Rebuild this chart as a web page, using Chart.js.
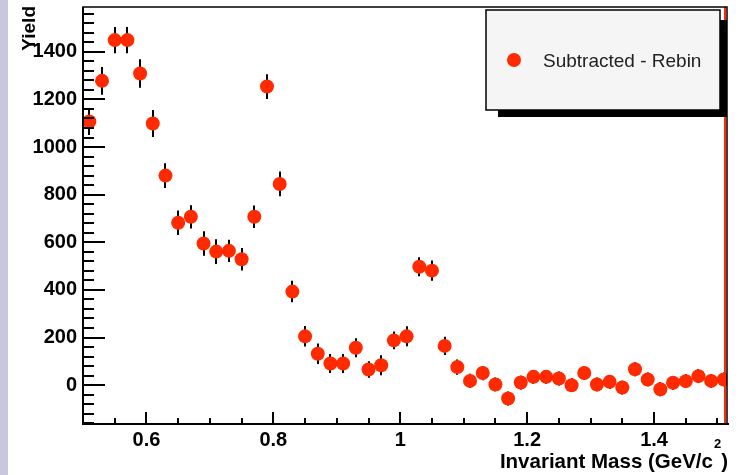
<!DOCTYPE html>
<html>
<head>
<meta charset="utf-8">
<script src="https://cdn.jsdelivr.net/npm/chart.js@4/dist/chart.umd.min.js"></script>
<style>
  html, body { margin: 0; padding: 0; background: #fff; }
  canvas { display: block; }
</style>
</head>
<body>
<canvas id="massChart" width="740" height="475"></canvas>
<script>
// bin centres (GeV/c^2) and subtracted yields with their errors
const masses = [0.51, 0.53, 0.55, 0.57, 0.59, 0.61, 0.63, 0.65, 0.67, 0.69,
  0.71, 0.73, 0.75, 0.77, 0.79, 0.81, 0.83, 0.85, 0.87, 0.89,
  0.91, 0.93, 0.95, 0.97, 0.99, 1.01, 1.03, 1.05, 1.07, 1.09,
  1.11, 1.13, 1.15, 1.17, 1.19, 1.21, 1.23, 1.25, 1.27, 1.29,
  1.31, 1.33, 1.35, 1.37, 1.39, 1.41, 1.43, 1.45, 1.47, 1.49, 1.51];
const yields = [1107, 1278, 1449, 1449, 1309, 1099, 880, 682, 707, 595,
  561, 564, 529, 707, 1254, 845, 393, 205, 132, 91,
  91, 157, 66, 84, 188, 205, 497, 481, 165, 76,
  18, 51, 3, -56, 11, 35, 35, 28, 0, 51,
  3, 14, -10, 67, 24, -17, 10, 17, 38, 18, 24];
const yieldErrors = [56, 58, 55, 55, 60, 57, 52, 51, 49, 51,
  52, 47, 47, 47, 52, 52, 45, 43, 43, 40,
  40, 40, 35, 42, 37, 42, 40, 43, 38, 32,
  30, 30, 29, 29, 29, 29, 29, 29, 29, 29,
  29, 29, 29, 29, 29, 29, 29, 29, 29, 29, 29];

const xTickLabels = [0.6, 0.8, 1, 1.2, 1.4];
const yTickLabels = [0, 200, 400, 600, 800, 1000, 1200, 1400];
const seriesName = "Subtracted - Rebin";

const X_MIN = 0.5, X_MAX = 1.515;
const Y_MIN = -163, Y_MAX = 1588;
const X_MINOR = 0.05, Y_MINOR = 40;

const FONT = "'Liberation Sans', Arial, Helvetica, sans-serif";
const RED = "#ff2a00";

function minorTicks(min, max, step) {
  const out = [];
  for (let v = Math.ceil(min / step - 1e-9) * step; v <= max + 1e-9; v += step) {
    out.push({ value: Math.round(v * 1000) / 1000 });
  }
  return out;
}

function isMajor(v, list) {
  return list.some((m) => Math.abs(m - v) < 1e-6);
}

// white page with the lavender strip on the left
const pageBackground = {
  id: "pageBackground",
  beforeDraw(chart) {
    const ctx = chart.ctx;
    ctx.save();
    ctx.fillStyle = "#ffffff";
    ctx.fillRect(0, 0, chart.width, chart.height);
    ctx.fillStyle = "#c9c7de";
    ctx.fillRect(0, 0, 8, chart.height);
    ctx.restore();
  }
};

// vertical error bars, drawn under the markers
const errorBars = {
  id: "errorBars",
  beforeDatasetsDraw(chart) {
    const ctx = chart.ctx;
    const xs = chart.scales.x, ys = chart.scales.y;
    ctx.save();
    ctx.strokeStyle = "#000";
    ctx.lineWidth = 2;
    ctx.beginPath();
    masses.forEach((m, i) => {
      const px = Math.round(xs.getPixelForValue(m));
      ctx.moveTo(px, ys.getPixelForValue(yields[i] + yieldErrors[i]));
      ctx.lineTo(px, ys.getPixelForValue(yields[i] - yieldErrors[i]));
    });
    ctx.stroke();
    ctx.restore();
  }
};

// frame, inward ticks, axis titles and the boxed legend
const frameAndLegend = {
  id: "frameAndLegend",
  afterDraw(chart) {
    const ctx = chart.ctx;
    const { left, right, top, bottom } = chart.chartArea;
    const xs = chart.scales.x, ys = chart.scales.y;
    ctx.save();

    // red line along the right edge
    ctx.strokeStyle = RED;
    ctx.lineWidth = 2;
    ctx.beginPath();
    ctx.moveTo(right - 2, top);
    ctx.lineTo(right - 2, bottom);
    ctx.stroke();

    // frame
    ctx.strokeStyle = "#000";
    ctx.lineWidth = 1.5;
    ctx.strokeRect(left, top, right - left, bottom - top);
    ctx.lineWidth = 2;
    ctx.beginPath();
    ctx.moveTo(left, top);
    ctx.lineTo(left, bottom);
    ctx.lineTo(right + 2, bottom);
    ctx.stroke();

    // ticks pointing into the plot
    ctx.beginPath();
    ys.ticks.forEach((t) => {
      const py = Math.round(ys.getPixelForValue(t.value));
      const len = isMajor(t.value, yTickLabels) ? 22 : 11;
      ctx.moveTo(left, py);
      ctx.lineTo(left + len, py);
    });
    xs.ticks.forEach((t) => {
      const px = Math.round(xs.getPixelForValue(t.value));
      const len = isMajor(t.value, xTickLabels) ? 12 : 6;
      ctx.moveTo(px, bottom);
      ctx.lineTo(px, bottom - len);
    });
    ctx.stroke();

    // legend box with shadow
    ctx.fillStyle = "#000";
    ctx.fillRect(498, 20, 229, 97);
    ctx.fillStyle = "#f5f5f5";
    ctx.fillRect(486, 10, 234, 100);
    ctx.strokeStyle = "#000";
    ctx.lineWidth = 1.5;
    ctx.strokeRect(486, 10, 234, 100);
    ctx.fillStyle = RED;
    ctx.beginPath();
    ctx.arc(514, 60, 7, 0, Math.PI * 2);
    ctx.fill();
    ctx.fillStyle = "#222";
    ctx.font = "19px " + FONT;
    ctx.textBaseline = "alphabetic";
    ctx.textAlign = "left";
    ctx.fillText(seriesName, 543, 67);

    // axis titles
    ctx.fillStyle = "#000";
    const main = "Invariant Mass (GeV/c";
    const close = ")";
    ctx.font = "bold 13px " + FONT;
    const supW = ctx.measureText("2").width;
    ctx.font = "bold 20.5px " + FONT;
    const closeW = ctx.measureText(close).width;
    const mainW = ctx.measureText(main).width;
    const endX = right + 1;
    const startX = endX - closeW - supW - 1 - mainW;
    ctx.fillText(main, startX, 468);
    ctx.fillText(close, endX - closeW, 468);
    ctx.font = "bold 13px " + FONT;
    ctx.fillText("2", startX + mainW + 1, 448);

    ctx.font = "bold 19px " + FONT;
    ctx.translate(35, top - 1);
    ctx.rotate(-Math.PI / 2);
    ctx.textAlign = "right";
    ctx.fillText("Yield", 0, 0);

    ctx.restore();
  }
};

const tickFont = { family: FONT, size: 20, weight: "bold" };

new Chart(document.getElementById("massChart"), {
  type: "scatter",
  data: {
    datasets: [{
      label: seriesName,
      data: masses.map((m, i) => ({ x: m, y: yields[i] })),
      backgroundColor: RED,
      borderWidth: 0,
      pointRadius: 7,
      pointHoverRadius: 7,
      pointStyle: "circle"
    }]
  },
  options: {
    responsive: false,
    animation: false,
    events: [],
    layout: { padding: { top: 5, right: 13, left: 0, bottom: 0 } },
    plugins: {
      legend: { display: false },
      tooltip: { enabled: false }
    },
    scales: {
      x: {
        type: "linear",
        min: X_MIN,
        max: X_MAX,
        grid: { display: false, drawTicks: false },
        border: { display: false },
        afterBuildTicks: (scale) => { scale.ticks = minorTicks(X_MIN, X_MAX, X_MINOR); },
        afterFit: (scale) => {
          scale.height = 51;
          scale.paddingLeft = 0;
          scale.paddingRight = 0;
        },
        ticks: {
          autoSkip: false,
          maxRotation: 0,
          padding: 4,
          color: "#000",
          font: tickFont,
          callback: (v) => (isMajor(v, xTickLabels) ? String(v) : "")
        }
      },
      y: {
        type: "linear",
        min: Y_MIN,
        max: Y_MAX,
        grid: { display: false, drawTicks: false },
        border: { display: false },
        afterBuildTicks: (scale) => { scale.ticks = minorTicks(Y_MIN, Y_MAX, Y_MINOR); },
        afterFit: (scale) => {
          scale.width = 83;
          scale.paddingTop = 0;
          scale.paddingBottom = 0;
        },
        ticks: {
          autoSkip: false,
          padding: 6,
          color: "#000",
          font: tickFont,
          callback: (v) => (isMajor(v, yTickLabels) ? String(v) : "")
        }
      }
    }
  },
  plugins: [pageBackground, errorBars, frameAndLegend]
});
</script>
</body>
</html>
